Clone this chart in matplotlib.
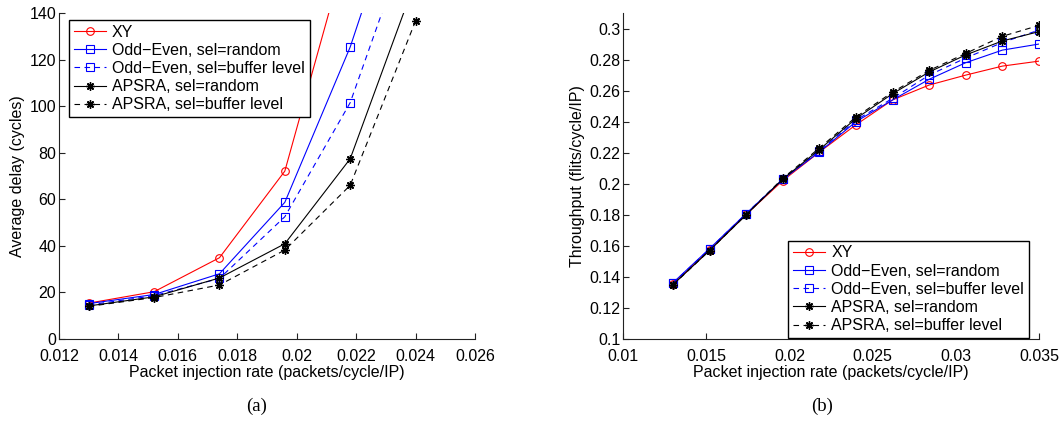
import matplotlib
matplotlib.use('Agg')
import matplotlib.pyplot as plt
from matplotlib.ticker import FuncFormatter

# (a) average delay
rate_a = [0.013, 0.0152, 0.0174, 0.0196, 0.0218, 0.024]
delay_xy = [15.4, 20.3, 34.9, 72.1, 173, 250]
delay_oe_rand = [15.2, 19.1, 28.0, 58.7, 125.4, 210]
delay_oe_buf = [14.6, 18.6, 26.0, 52.5, 101.5, 181]
delay_apsra_rand = [14.2, 18.1, 26.2, 40.9, 77.4, 154]
delay_apsra_buf = [14.0, 17.8, 23.2, 38.2, 66.0, 136.6]

# (b) throughput
rate_b = [0.013, 0.0152, 0.0174, 0.0196, 0.0218, 0.024, 0.0262, 0.0284, 0.0306, 0.0328, 0.035]
thr_xy = [0.1353, 0.1573, 0.1802, 0.2020, 0.2204, 0.2380, 0.2540, 0.2636, 0.2700, 0.2758, 0.2790]
thr_oe_rand = [0.1362, 0.1582, 0.1808, 0.2028, 0.2205, 0.2400, 0.2540, 0.2673, 0.2780, 0.2861, 0.2900]
thr_oe_buf = [0.1360, 0.1580, 0.1808, 0.2030, 0.2210, 0.2410, 0.2550, 0.2700, 0.2810, 0.2910, 0.2990]
thr_apsra_rand = [0.1350, 0.1570, 0.1800, 0.2030, 0.2220, 0.2420, 0.2580, 0.2720, 0.2830, 0.2920, 0.2980]
thr_apsra_buf = [0.1348, 0.1570, 0.1800, 0.2035, 0.2230, 0.2430, 0.2590, 0.2730, 0.2840, 0.2950, 0.3020]

labels = ['XY', 'Odd\u2212Even, sel=random', 'Odd\u2212Even, sel=buffer level',
          'APSRA, sel=random', 'APSRA, sel=buffer level']
styles = [dict(color='red', ls='-', marker='o'),
          dict(color='blue', ls='-', marker='s'),
          dict(color='blue', ls='--', marker='s'),
          dict(color='black', ls='-', marker=(8, 2, 0)),
          dict(color='black', ls='--', marker=(8, 2, 0))]

plt.rcParams['font.family'] = ['Liberation Sans', 'DejaVu Sans']
fontsize = 11.5

fig = plt.figure(figsize=(10.6, 4.22), dpi=100)
ax1 = fig.add_axes([59/1060, 1 - 339/422, 416/1060, 326/422])
ax2 = fig.add_axes([623/1060, 1 - 339/422, 416/1060, 326/422])

def draw(ax, x, series):
    for y, lab, st in zip(series, labels, styles):
        is_star = not isinstance(st['marker'], str)
        ax.plot(x, y, color=st['color'], linestyle=st['ls'], marker=st['marker'],
                markersize=6 if is_star else 5.5,
                markerfacecolor='none', markeredgecolor=st['color'],
                markeredgewidth=1.0 if is_star else 0.8, linewidth=0.8, label=lab,
                dashes=(5, 4) if st['ls'] == '--' else (None, None))

def style(ax):
    for s in ['top', 'right']:
        ax.spines[s].set_visible(False)
    for s in ['left', 'bottom']:
        ax.spines[s].set_linewidth(0.8)
        ax.spines[s].set_color('#222222')
    ax.tick_params(direction='in', length=4, width=0.8, labelsize=fontsize, colors='#222222',
                   labelcolor='black')
    ax.tick_params(axis='x', pad=7)
    ax.tick_params(axis='y', pad=2)
    fmt = FuncFormatter(lambda v, p: '%g' % round(v, 4))
    ax.xaxis.set_major_formatter(fmt)
    ax.yaxis.set_major_formatter(fmt)

legend_kw = dict(fontsize=fontsize, fancybox=False, edgecolor='black', framealpha=1,
                 handlelength=2.0, borderpad=0.3, labelspacing=0.2, handletextpad=0.4,
                 borderaxespad=0)

draw(ax1, rate_a, [delay_xy, delay_oe_rand, delay_oe_buf, delay_apsra_rand, delay_apsra_buf])
ax1.set_xlim(0.012, 0.026)
ax1.set_ylim(0, 140)
ax1.set_xticks([0.012, 0.014, 0.016, 0.018, 0.02, 0.022, 0.024, 0.026])
ax1.set_yticks(range(0, 141, 20))
style(ax1)
ax1.set_xlabel('Packet injection rate (packets/cycle/IP)', fontsize=fontsize, labelpad=1)
ax1.set_ylabel('Average delay (cycles)', fontsize=fontsize, labelpad=3)
leg1 = ax1.legend(loc='upper left', bbox_to_anchor=(0.024, 0.979), **legend_kw)
leg1.get_frame().set_linewidth(1.0)

draw(ax2, rate_b, [thr_xy, thr_oe_rand, thr_oe_buf, thr_apsra_rand, thr_apsra_buf])
ax2.set_xlim(0.01, 0.035)
ax2.set_ylim(0.1, 0.31)
ax2.set_xticks([0.01, 0.015, 0.02, 0.025, 0.03, 0.035])
ax2.set_yticks([0.1, 0.12, 0.14, 0.16, 0.18, 0.2, 0.22, 0.24, 0.26, 0.28, 0.3])
style(ax2)
ax2.set_xlabel('Packet injection rate (packets/cycle/IP)', fontsize=fontsize, labelpad=1)
ax2.set_ylabel('Throughput (flits/cycle/IP)', fontsize=fontsize, labelpad=3)
leg2 = ax2.legend(loc='lower right', bbox_to_anchor=(0.976, 0.003), **legend_kw)
leg2.get_frame().set_linewidth(1.0)

fig.text(257/1060, 1 - 406/422, '(a)', ha='center', va='center', fontsize=13.5,
         family=['Liberation Serif', 'DejaVu Serif'])
fig.text(822/1060, 1 - 406/422, '(b)', ha='center', va='center', fontsize=13.5,
         family=['Liberation Serif', 'DejaVu Serif'])

fig.savefig('out.png', dpi=100)
